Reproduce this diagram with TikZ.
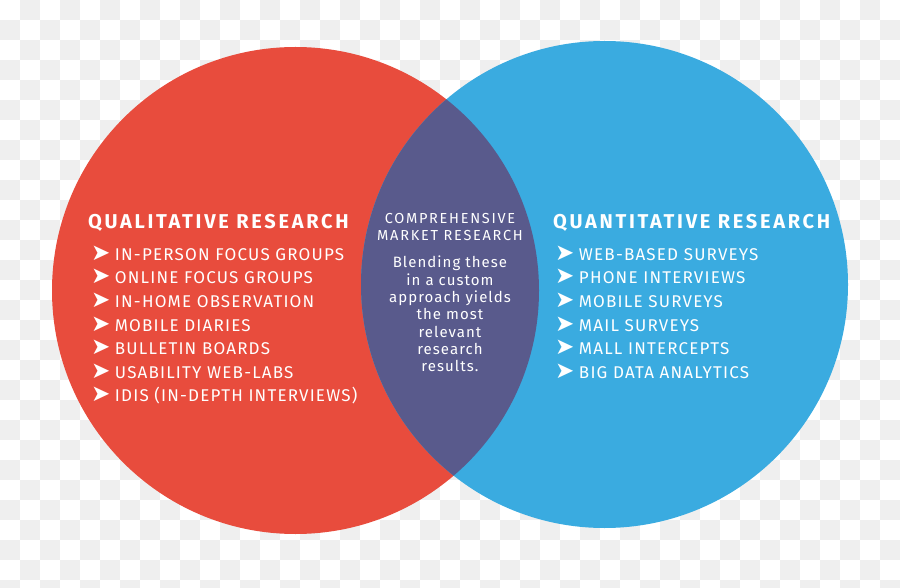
\documentclass[tikz,border=0pt]{standalone}
\usepackage{fontspec}
\setmainfont{Fira Sans}
\newfontfamily\dejavu{DejaVu Sans}
\usetikzlibrary{matrix}
\usetikzlibrary{positioning}
\definecolor{qualred}{RGB}{232,76,61}
\definecolor{quantblue}{RGB}{58,171,224}
\definecolor{blendpurple}{RGB}{89,90,140}
\definecolor{checkgrey}{RGB}{239,239,239}
\tikzstyle{heading} = [font=\bfseries\fontsize{20}{24}\selectfont\addfontfeatures{LetterSpace=13.5},
	anchor=base west,inner sep=0pt]
\tikzstyle{listmatrix} = [matrix of nodes,anchor=north west,inner sep=0pt,
	column sep=4.5pt,row sep=6.6pt,
	nodes={anchor=base west,inner sep=0pt,
		font=\fontsize{17}{20}\selectfont\addfontfeatures{LetterSpace=7},
		text height=13.6pt,text depth=3.4pt}]
\tikzstyle{blendtitle} = [font=\fontsize{14.5}{16.7}\selectfont\addfontfeatures{LetterSpace=12},
	align=center,anchor=north,inner sep=0pt]
\tikzstyle{blendtext} = [font=\fontsize{15}{17.3}\selectfont\addfontfeatures{LetterSpace=7},
	align=center,anchor=north,inner sep=0pt]
\newcommand{\chev}{{\dejavu\fontsize{23}{23}\selectfont ➤}}

\begin{document}
\begin{tikzpicture}[x=1pt,y=-1pt,every node/.style={text=white}]
	\useasboundingbox (0,0) rectangle (900,588);
	% checkered background
	\foreach \j in {0,...,29}
		\foreach \i in {0,...,22}
			\fill[checkgrey] ({(2*\i+mod(\j+1,2))*20},{\j*20}) rectangle ++(20,20);
	\coordinate (qual) at (295.5,290.5);
	\coordinate (quant) at (604.5,284.5);
	\fill[qualred] (qual) circle[radius=243.5];
	\fill[quantblue] (quant) circle[radius=243.5];
	\begin{scope}
		\clip (qual) circle[radius=243.5];
		\fill[blendpurple] (quant) circle[radius=243.5];
	\end{scope}
	
	\node[heading] (qualtitle) at (88,229) {QUALITATIVE RESEARCH};
	\matrix[listmatrix] (qual list) at (91,246.4)
	{
		\chev & IN-PERSON FOCUS GROUPS \\
		\chev & ONLINE FOCUS GROUPS \\
		\chev & IN-HOME OBSERVATION \\
		\chev & MOBILE DIARIES \\
		\chev & BULLETIN BOARDS \\
		\chev & USABILITY WEB-LABS \\
		\chev & IDIS (IN-DEPTH INTERVIEWS) \\
	};
	
	\node[heading] (quanttitle) at (553,229) {QUANTITATIVE RESEARCH};
	\matrix[listmatrix] (quant list) at (555,246.4)
	{
		\chev & WEB-BASED SURVEYS \\
		\chev & PHONE INTERVIEWS \\
		\chev & MOBILE SURVEYS \\
		\chev & MAIL SURVEYS \\
		\chev & MALL INTERCEPTS \\
		\chev & BIG DATA ANALYTICS \\
	};
	
	\node[blendtitle] (blendtitle) at (450,213) {COMPREHENSIVE\\MARKET RESEARCH};
	\node[blendtext] (blendtext) at (450,256) {Blending these\\in a custom\\approach yields\\the most\\relevant\\research\\results.};
\end{tikzpicture}
\end{document}
